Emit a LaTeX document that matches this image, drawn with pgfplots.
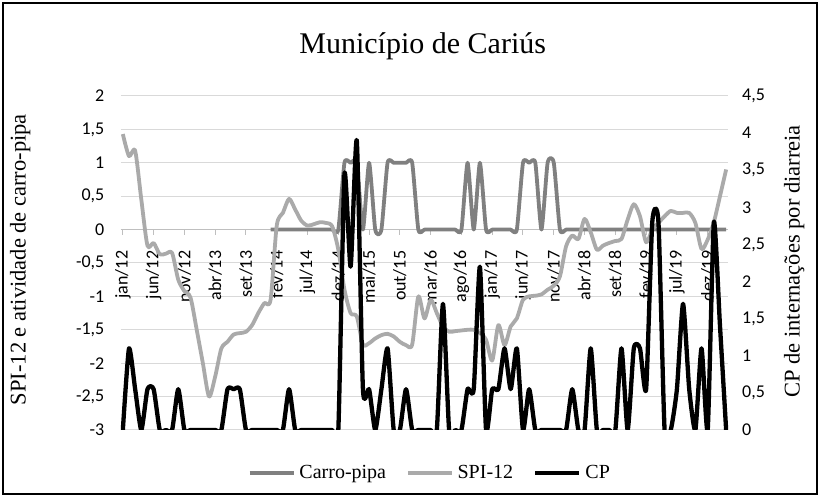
\documentclass[border=0pt]{standalone}
\usepackage{pgfplots}
\pgfplotsset{compat=1.18}
\usepackage{pgfplotstable}
\usepackage{fontspec}
\setmainfont{Liberation Serif}
\newfontfamily\carlito{Carlito}

\definecolor{carro}{RGB}{128,128,128}
\definecolor{spi}{RGB}{170,170,170}
\definecolor{gridc}{RGB}{217,217,217}
\definecolor{axisc}{RGB}{191,191,191}

% mes (0 = jan/12), carro-pipa, SPI-12, CP
\pgfplotstableread{
i  carro  spi    cp
0  nan    1.43   0
1  nan    1.10   1.1
2  nan    1.18   0.55
3  nan    0.45   0
4  nan   -0.24   0.55
5  nan   -0.20   0.55
6  nan   -0.37   0
7  nan   -0.36   0
8  nan   -0.35   0
9  nan   -0.75   0.55
10 nan   -0.92   0
11 nan   -1.02   0
12 nan   -1.50   0
13 nan   -2.00   0
14 nan   -2.50   0
15 nan   -2.20   0
16 nan   -1.78   0
17 nan   -1.68   0.55
18 nan   -1.57   0.55
19 nan   -1.55   0.55
20 nan   -1.53   0
21 nan   -1.43   0
22 nan   -1.25   0
23 nan   -1.10   0
24 0     -1.05   0
25 0      0.06   0
26 0      0.25   0
27 0      0.46   0.55
28 0      0.30   0
29 0      0.13   0
30 0      0.06   0
31 0      0.08   0
32 0      0.11   0
33 0      0.10   0
34 0      0.05   0
35 0     -0.30   0
36 1     -0.90   3.45
37 1     -1.25   2.2
38 1     -1.30   3.9
39 0     -1.72   0.55
40 1     -1.70   0.55
41 0     -1.63   0
42 0     -1.58   0.55
43 1     -1.56   1.1
44 1     -1.60   0
45 1     -1.68   0
46 1     -1.73   0.55
47 1     -1.72   0
48 0     -1.00   0
49 0     -1.33   0
50 0     -1.05   0
51 0     -1.25   0
52 0     -1.45   1.7
53 0     -1.53   0
54 0     -1.52   0
55 0     -1.51   0
56 1     -1.50   0.55
57 0     -1.50   0.55
58 1     -1.55   2.2
59 0     -1.65   0
60 0     -1.96   0.55
61 0     -1.43   0.55
62 0     -1.73   1.1
63 0     -1.45   0.55
64 0     -1.33   1.1
65 1     -1.05   0
66 1     -1.00   0.55
67 1     -0.99   0
68 0     -0.97   0
69 1     -0.90   0
70 1     -0.84   0
71 0     -0.70   0
72 0     -0.25   0
73 0     -0.09   0.55
74 0     -0.14   0
75 0      0.16   0
76 0     -0.04   1.1
77 0     -0.30   0
78 0     -0.24   0
79 0     -0.20   0
80 0     -0.17   0
81 0     -0.14   1.1
82 0      0.15   0
83 0      0.38   1.1
84 0      0.20   1.1
85 0     -0.19   0.55
86 0      0.00   2.8
87 0      0.10   2.8
88 0      0.20   0
89 0      0.28   0
90 0      0.25   0.55
91 0      0.25   1.7
92 0      0.25   0.55
93 0      0.10   0
94 0     -0.29   1.1
95 0     -0.15   0
96 0      0.11   2.8
97 0      0.50   1.4
98 0      0.90   0
}\dados

\begin{document}
\begin{tikzpicture}
\useasboundingbox (-121pt,-67pt) rectangle (699pt,430pt);
\draw[line width=1.3pt] (-118pt,-64pt) rectangle (696pt,427pt);

\pgfplotsset{
  every axis/.append style={
    at={(0pt,0pt)}, anchor=south west,
    scale only axis, width=607pt, height=334pt,
    xmin=-0.3, xmax=98.3,
    /pgf/number format/use comma,
    /pgf/number format/assume math mode=true,
    ticklabel style={font=\carlito\fontsize{18}{18}\selectfont},
  },
}

\begin{axis}[
  ymin=-3, ymax=2,
  axis x line=middle, axis y line=left,
  x axis line style={-, draw=axisc, line width=1pt},
  y axis line style={draw=none},
  hide obscured y ticks=false,
  hide obscured x ticks=false,
  xtick={0,5,...,95},
  xticklabels={jan/12,jun/12,nov/12,abr/13,set/13,fev/14,jul/14,dez/14,mai/15,out/15,mar/16,ago/16,jan/17,jun/17,nov/17,abr/18,set/18,fev/19,jul/19,dez/19},
  xtick align=outside,
  xtick style={draw=axisc, line width=1pt},
  major tick length=5pt,
  xticklabel style={rotate=90, anchor=east, inner sep=0pt},
  xticklabel shift=16pt,
  ytick={-3,-2.5,...,2},
  ytick style={draw=none},
  yticklabel style={anchor=east, inner sep=0pt},
  yticklabel shift=14pt,
  ymajorgrids,
  grid style={draw=gridc, line width=1pt},
  ylabel={SPI-12 e atividade de carro-pipa},
  every axis y label/.style={at={(axis description cs:-0.166,0.51)}, rotate=90, anchor=center,
    font=\fontsize{22.5}{22.5}\selectfont},
  title={Município de Cariús},
  title style={at={(axis description cs:0.497,1.108)}, anchor=base, font=\fontsize{30}{30}\selectfont},
  unbounded coords=jump,
]
\addplot[color=carro, line width=3.8pt, smooth, tension=0.35, line join=round] table[x=i, y=carro] {\dados};
\addplot[color=spi, line width=3.8pt, smooth, tension=0.45, line join=round] table[x=i, y=spi] {\dados};
\end{axis}

\begin{axis}[
  ymin=0, ymax=4.5,
  axis x line=none, axis y line*=right,
  y axis line style={draw=none},
  ytick={0,0.5,...,4.5},
  ytick style={draw=none},
  yticklabel style={anchor=west, inner sep=0pt},
  yticklabel shift=14pt,
  ylabel={CP de internações por diarreia},
  every axis y label/.style={at={(axis description cs:1.109,0.505)}, rotate=90, anchor=center,
    font=\fontsize{22.5}{22.5}\selectfont},
  legend style={at={(axis description cs:0.509,-0.129)}, anchor=center, draw=none, fill=none,
    legend columns=3, font=\fontsize{20}{20}\selectfont,
    /tikz/every even column/.append style={column sep=18pt},
    /tikz/every odd column/.append style={column sep=2pt}},
  legend image code/.code={\draw[#1] (0pt,0pt) -- (44pt,0pt);},
]
\addlegendimage{color=carro, line width=3.5pt}
\addlegendentry{Carro-pipa}
\addlegendimage{color=spi, line width=3.5pt}
\addlegendentry{SPI-12}
\addplot[color=black, line width=4.3pt, smooth, tension=0.35, line join=round] table[x=i, y=cp] {\dados};
\addlegendentry{CP}
\end{axis}
\end{tikzpicture}
\end{document}
